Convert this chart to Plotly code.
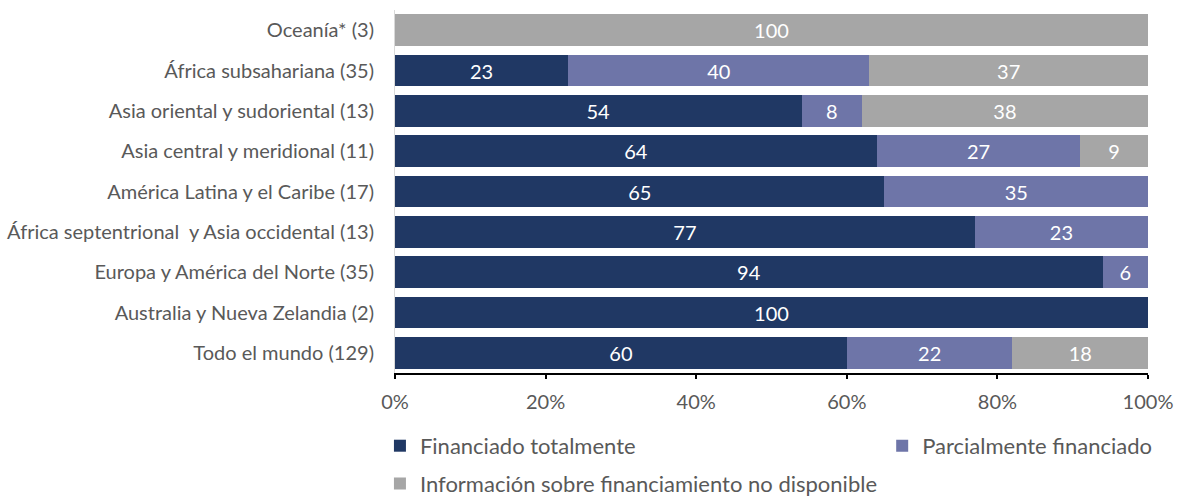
import plotly.graph_objects as go

categories = [
    "Oceanía* (3)",
    "África subsahariana (35)",
    "Asia oriental y sudoriental (13)",
    "Asia central y meridional (11)",
    "América Latina y el Caribe (17)",
    "África septentrional  y Asia occidental (13)",
    "Europa y América del Norte (35)",
    "Australia y Nueva Zelandia (2)",
    "Todo el mundo (129)",
]
fully_funded = [0, 23, 54, 64, 65, 77, 94, 100, 60]
partly_funded = [0, 40, 8, 27, 35, 23, 6, 0, 22]
no_info = [100, 37, 38, 9, 0, 0, 0, 0, 18]
x_ticks = [0, 20, 40, 60, 80, 100]
x_labels = ["0%", "20%", "40%", "60%", "80%", "100%"]

series = [
    ("Financiado totalmente", fully_funded, "#203864", "legend"),
    ("Parcialmente financiado", partly_funded, "#6E75A8", "legend2"),
    ("Información sobre financiamiento no disponible", no_info, "#A6A6A6", "legend3"),
]

FONT = "Lato"
fig = go.Figure()
for name, vals, color, lg in series:
    fig.add_trace(go.Bar(
        y=categories, x=vals, name=name, orientation="h",
        marker=dict(color=color, line=dict(width=0)),
        text=[str(v) if v else "" for v in vals],
        textposition="inside", insidetextanchor="middle",
        textfont=dict(color="white", size=20, family=FONT),
        legend=lg, showlegend=True, hoverinfo="skip",
    ))

leg_common = dict(
    orientation="h", xanchor="left", yanchor="top",
    font=dict(size=22, color="#595959", family=FONT), itemwidth=30,
    bgcolor="rgba(0,0,0,0)", visible=True,
)

fig.update_layout(
    barmode="stack",
    bargap=0.22,
    showlegend=True,
    width=1178, height=498,
    margin=dict(l=395, r=30, t=10, b=125, autoexpand=False),
    plot_bgcolor="white", paper_bgcolor="white",
    font=dict(family=FONT, color="#595959", size=20),
    uniformtext=dict(minsize=10, mode="show"),
    xaxis=dict(
        range=[0, 100], tickvals=x_ticks, ticktext=x_labels,
        showgrid=False, zeroline=False,
        showline=True, linecolor="black", linewidth=2,
        ticks="outside", ticklen=4, tickwidth=2, tickcolor="black",
        tickfont=dict(size=20, color="#595959"), ticklabelstandoff=6,
        fixedrange=True,
    ),
    yaxis=dict(
        autorange="reversed", showgrid=False, zeroline=False,
        showline=True, linecolor="#D9D9D9", linewidth=1,
        ticks="", ticklabelstandoff=16,
        tickfont=dict(size=20, color="#595959"),
    ),
    legend=dict(x=-0.02, y=-0.143, **leg_common),
    legend2=dict(x=0.647, y=-0.143, **leg_common),
    legend3=dict(x=-0.02, y=-0.247, **leg_common),
)

fig.write_html("out.html", config={"displayModeBar": False},
               post_script="document.body.style.margin='0';")
